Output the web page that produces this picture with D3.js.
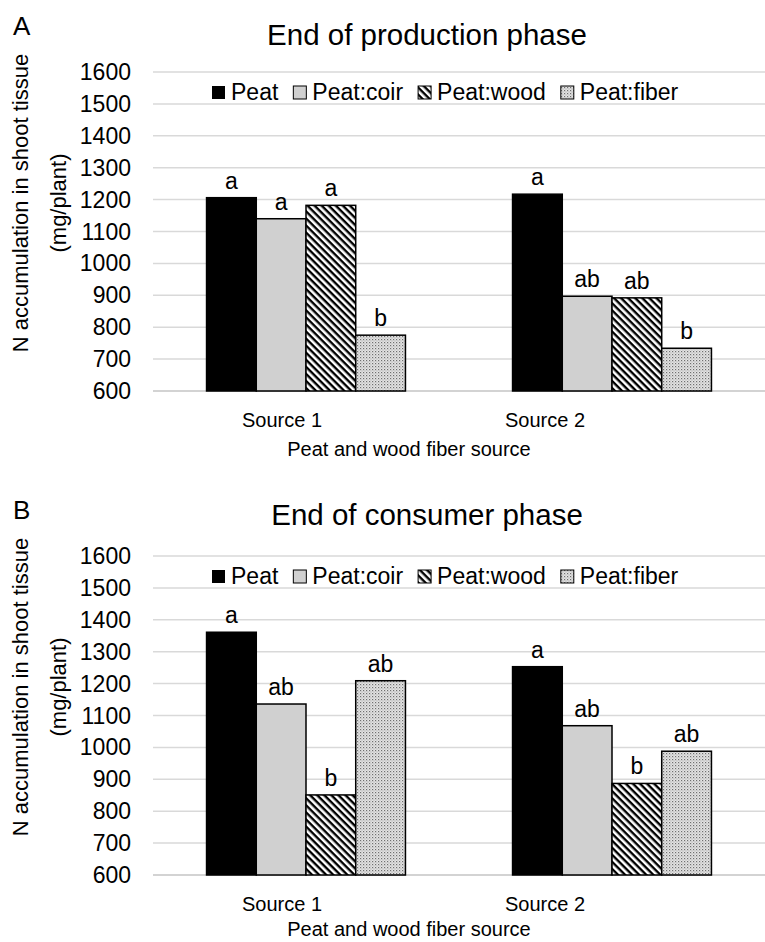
<!DOCTYPE html>
<html>
<head>
<meta charset="utf-8">
<script src="https://cdn.jsdelivr.net/npm/d3@7"></script>
<style>
  body { margin: 0; background: #fff; }
  svg { font-family: "Liberation Sans", Arial, sans-serif; }
</style>
</head>
<body>
<svg id="chart" width="765" height="942"></svg>
<script>
// data
var sources = ['Source 1', 'Source 2'];
var series = ['Peat', 'Peat:coir', 'Peat:wood', 'Peat:fiber'];
var productionValues = [[1206, 1140, 1182, 775], [1217, 897, 892, 734]];
var productionLetters = [['a', 'a', 'a', 'b'], ['a', 'ab', 'ab', 'b']];
var consumerValues = [[1361, 1136, 851, 1209], [1253, 1068, 887, 988]];
var consumerLetters = [['a', 'ab', 'b', 'ab'], ['a', 'ab', 'b', 'ab']];
var yTicks = [600, 700, 800, 900, 1000, 1100, 1200, 1300, 1400, 1500, 1600];

var svg = d3.select('#chart');

// patterns
var defs = svg.append('defs');
var wood = defs.append('pattern')
  .attr('id', 'wood')
  .attr('patternUnits', 'userSpaceOnUse')
  .attr('width', 5).attr('height', 5)
  .attr('patternTransform', 'rotate(45)');
wood.append('rect').attr('width', 5).attr('height', 5).attr('fill', '#fff');
wood.append('rect').attr('x', 0).attr('y', 0).attr('width', 5).attr('height', 2.4).attr('fill', '#000');

var fiber = defs.append('pattern')
  .attr('id', 'fiber')
  .attr('patternUnits', 'userSpaceOnUse')
  .attr('width', 3).attr('height', 3);
fiber.append('rect').attr('width', 3).attr('height', 3).attr('fill', '#e4e4e4');
fiber.append('rect').attr('x', 0).attr('y', 0).attr('width', 1.2).attr('height', 1.2).attr('fill', '#707070');
fiber.append('rect').attr('x', 1.5).attr('y', 1.5).attr('width', 1).attr('height', 1).attr('fill', '#999');

var fills = {'Peat': '#000', 'Peat:coir': '#d0d0d0', 'Peat:wood': 'url(#wood)', 'Peat:fiber': 'url(#fiber)'};

var left = 153, right = 765;

function drawPanel(top, values, letters, title, letter, titleOff, axisTitleOff) {
  var bottom = top + 319;
  var g = svg.append('g');

  var y = d3.scaleLinear().domain([600, 1600]).range([bottom, top]);
  var x0 = d3.scaleBand().domain(sources).range([left, right]);
  var groupW = x0.bandwidth() * 0.65;
  var x1 = d3.scaleBand().domain(series)
    .range([(x0.bandwidth() - groupW) / 2, (x0.bandwidth() + groupW) / 2]);
  // category labels sit left of the bar groups in the original
  var xLab = d3.scalePoint().domain(sources).range([282, 545]);

  // grid
  g.selectAll('.grid').data(yTicks.slice(1)).enter().append('line')
    .attr('x1', left).attr('x2', right)
    .attr('y1', function(d) { return y(d); }).attr('y2', function(d) { return y(d); })
    .style('stroke', '#d9d9d9').style('stroke-width', 1.5);

  g.append('line')
    .attr('x1', left).attr('x2', right)
    .attr('y1', y(600)).attr('y2', y(600))
    .style('stroke', '#c4c4c4').style('stroke-width', 1.5);

  // y axis labels
  g.selectAll('.ytick').data(yTicks).enter().append('text')
    .attr('x', 131)
    .attr('y', function(d) { return y(d) + 8; })
    .attr('text-anchor', 'end')
    .style('font-size', '23px')
    .text(function(d) { return d; });

  // bars
  var groups = g.selectAll('.grp').data(sources).enter().append('g')
    .attr('transform', function(d) { return 'translate(' + x0(d) + ',0)'; });

  groups.each(function(src, i) {
    var gg = d3.select(this);
    gg.selectAll('rect').data(series).enter().append('rect')
      .attr('x', function(s) { return x1(s); })
      .attr('y', function(s, j) { return y(values[i][j]); })
      .attr('width', x1.bandwidth())
      .attr('height', function(s, j) { return y(600) - y(values[i][j]); })
      .attr('fill', function(s) { return fills[s]; })
      .style('stroke', '#000').style('stroke-width', 1.5);

    gg.selectAll('.lab').data(series).enter().append('text')
      .attr('x', function(s) { return x1(s) + x1.bandwidth() / 2; })
      .attr('y', function(s, j) { return y(values[i][j]) - 9; })
      .attr('text-anchor', 'middle')
      .style('font-size', '23px')
      .text(function(s, j) { return letters[i][j]; });
  });

  // x labels
  g.selectAll('.xlab').data(sources).enter().append('text')
    .attr('x', function(d) { return xLab(d); })
    .attr('y', bottom + 36)
    .attr('text-anchor', 'middle')
    .style('font-size', '20px')
    .text(function(d) { return d; });

  g.append('text')
    .attr('x', 409).attr('y', bottom + axisTitleOff)
    .attr('text-anchor', 'middle')
    .style('font-size', '20px')
    .text('Peat and wood fiber source');

  // y title
  var yt = g.append('text')
    .attr('transform', 'translate(20,' + (top + 131) + ') rotate(-90)')
    .attr('text-anchor', 'middle')
    .attr('dominant-baseline', 'central')
    .style('font-size', '22px');
  yt.append('tspan').attr('x', 0).attr('dy', 0).text('N accumulation in shoot tissue');
  yt.append('tspan').attr('x', 0).attr('dy', 38).text('(mg/plant)');

  // title
  g.append('text')
    .attr('x', 427).attr('y', top - titleOff)
    .attr('text-anchor', 'middle')
    .style('font-size', '29.5px')
    .text(title);

  g.append('text')
    .attr('x', 13).attr('y', top - 37)
    .style('font-size', '26px')
    .text(letter);

  // legend
  var lx = 212;
  series.forEach(function(s) {
    var lg = g.append('g');
    lg.append('rect')
      .attr('x', lx).attr('y', top + 14)
      .attr('width', 13).attr('height', 13)
      .attr('fill', fills[s])
      .style('stroke', s == 'Peat' ? 'none' : '#000').style('stroke-width', 1);
    var t = lg.append('text')
      .attr('x', lx + 19).attr('y', top + 28)
      .style('font-size', '23px')
      .text(s);
    lx = lx + 19 + t.node().getComputedTextLength() + 15;
  });
}

drawPanel(72, productionValues, productionLetters, 'End of production phase', 'A', 27, 65);
drawPanel(556, consumerValues, consumerLetters, 'End of consumer phase', 'B', 31, 61);
</script>
</body>
</html>
